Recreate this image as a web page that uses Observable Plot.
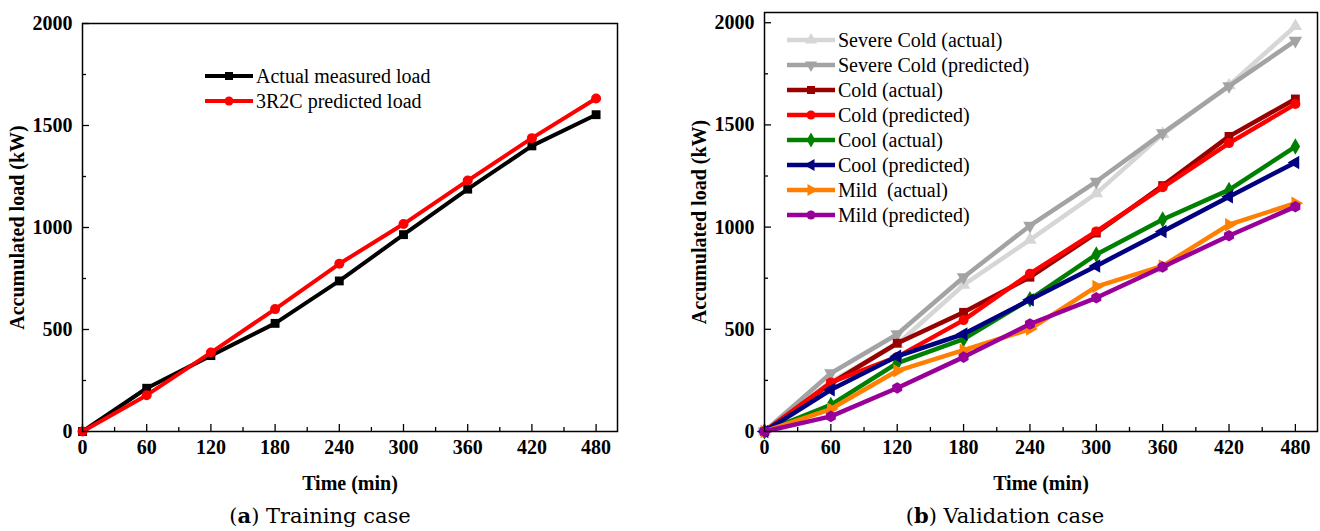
<!DOCTYPE html>
<html><head><meta charset="utf-8">
<script src="https://cdn.jsdelivr.net/npm/d3@7"></script>
<script src="https://cdn.jsdelivr.net/npm/@observablehq/plot@0.6"></script>
<style>
html,body{margin:0;padding:0;background:#fff;}
#root{position:relative;width:1320px;height:531px;overflow:hidden;font-family:"Liberation Serif","Times New Roman",serif;}
.panel{position:absolute;top:0;}
.caption{position:absolute;top:503px;font-family:"DejaVu Serif",serif;font-size:21px;line-height:26px;white-space:nowrap;transform:translateX(-50%);color:#000;}
.legend{position:absolute;font-family:"Liberation Serif","Times New Roman",serif;font-size:20px;color:#000;}
.legend .row{display:flex;align-items:center;height:25px;white-space:nowrap;}
.legend svg{margin-right:3px;flex:none;}
</style></head><body><div id="root"></div>
<script>
// ---- data ----
const time = [0, 60, 120, 180, 240, 300, 360, 420, 480];
const xMajor = [0, 60, 120, 180, 240, 300, 360, 420, 480];
const xMinor = [30, 90, 150, 210, 270, 330, 390, 450];
const yMajor = [0, 500, 1000, 1500, 2000];
const yMinor = [250, 750, 1250, 1750];

// (a) training case
const trainActual = [0, 212, 372, 530, 738, 965, 1188, 1400, 1553];
const trainPred   = [0, 178, 387, 600, 822, 1017, 1230, 1438, 1632];

// (b) validation case
const severeActual = [0, 245, 427, 717, 938, 1165, 1455, 1693, 1983];
const severePred   = [0, 285, 476, 755, 1007, 1223, 1460, 1690, 1912];
const coldActual   = [0, 235, 432, 583, 755, 971, 1203, 1444, 1627];
const coldPred     = [0, 240, 365, 545, 772, 979, 1195, 1411, 1602];
const coolActual   = [0, 130, 335, 452, 647, 866, 1037, 1182, 1394];
const coolPred     = [0, 204, 368, 477, 644, 810, 979, 1149, 1316];
const mildActual   = [0, 110, 297, 398, 501, 709, 810, 1012, 1117];
const mildPred     = [0, 74, 213, 364, 526, 654, 805, 958, 1100];

const trainSeries = [
  {name: "Actual measured load", values: trainActual, color: "#000000", symbol: "square", rotate: 0},
  {name: "3R2C predicted load", values: trainPred, color: "#ff0000", symbol: "circle", rotate: 0}
];
const validSeries = [
  {name: "Severe Cold (actual)", values: severeActual, color: "#d6d6d6", symbol: "triangle", rotate: 0},
  {name: "Severe Cold (predicted)", values: severePred, color: "#a3a3a3", symbol: "triangle", rotate: 180},
  {name: "Cold (actual)", values: coldActual, color: "#990000", symbol: "square", rotate: 0},
  {name: "Cold (predicted)", values: coldPred, color: "#ff0000", symbol: "circle", rotate: 0},
  {name: "Cool (actual)", values: coolActual, color: "#008000", symbol: "diamond", rotate: 0},
  {name: "Cool (predicted)", values: coolPred, color: "#000080", symbol: "triangle", rotate: -90},
  {name: "Mild\u00a0 (actual)", values: mildActual, color: "#ff8000", symbol: "triangle", rotate: 90},
  {name: "Mild (predicted)", values: mildPred, color: "#990099", symbol: "hexagon", rotate: 0}
];

function makeChart({width, height, ml, mr, mt, mb, yMax, series, lineWidth, r}) {
  const innerW = width - ml - mr, innerH = height - mt - mb;
  const marks = [
    Plot.tickX(xMinor, {x: d => d, insetTop: innerH - 4, stroke: "black", strokeWidth: 1.3}),
    Plot.tickX(xMajor, {x: d => d, insetTop: innerH - 7, stroke: "black", strokeWidth: 1.3}),
    Plot.tickY(yMinor, {y: d => d, insetRight: innerW - 4, stroke: "black", strokeWidth: 1.3}),
    Plot.tickY(yMajor, {y: d => d, insetRight: innerW - 7, stroke: "black", strokeWidth: 1.3}),
    Plot.axisX({ticks: xMajor, tickSize: 0, tickPadding: 8, tickFormat: d => String(d),
      fontSize: 20, fontWeight: "bold", label: "Time (min)", labelAnchor: "center",
      labelOffset: 58, labelArrow: "none"}),
    Plot.axisY({ticks: yMajor, tickSize: 0, tickPadding: 10, tickFormat: d => String(d),
      fontSize: 20, fontWeight: "bold", label: "Accumulated load (kW)", labelAnchor: "center",
      labelOffset: 73, labelArrow: "none"})
  ];
  for (const s of series) {
    const data = time.map((t, i) => ({t, v: s.values[i]}));
    marks.push(Plot.line(data, {x: "t", y: "v", stroke: s.color, strokeWidth: lineWidth, strokeLinejoin: "round"}));
    marks.push(Plot.dot(data, {x: "t", y: "v", symbol: s.symbol, rotate: s.rotate, r, fill: s.color, stroke: "none"}));
  }
  marks.push(Plot.frame({stroke: "black", strokeWidth: 1.5}));
  return Plot.plot({
    width, height, marginLeft: ml, marginRight: mr, marginTop: mt, marginBottom: mb,
    x: {domain: [0, 500]}, y: {domain: [0, yMax]},
    style: {fontFamily: "Liberation Serif, Times New Roman, serif", fontSize: "20px", color: "black", background: "white", overflow: "visible"},
    marks
  });
}

const symbolMap = {square: d3.symbolSquare, circle: d3.symbolCircle, triangle: d3.symbolTriangle, diamond: d3.symbolDiamond, hexagon: d3.symbolHexagon || d3.symbolCircle};
function makeLegend(series, left, top, lw, r) {
  const div = document.createElement("div");
  div.className = "legend";
  div.style.left = left + "px";
  div.style.top = top + "px";
  for (const s of series) {
    const row = document.createElement("div");
    row.className = "row";
    const svg = d3.create("svg").attr("width", 48).attr("height", 20);
    svg.append("line").attr("x1", 0).attr("x2", 48).attr("y1", 10).attr("y2", 10)
      .attr("stroke", s.color).attr("stroke-width", lw);
    const size = Math.PI * r * r;
    svg.append("path").attr("d", d3.symbol(symbolMap[s.symbol], size)())
      .attr("transform", `translate(24,10) rotate(${s.rotate})`).attr("fill", s.color);
    row.appendChild(svg.node());
    const span = document.createElement("span");
    span.textContent = s.name;
    row.appendChild(span);
    div.appendChild(row);
  }
  return div;
}

const root = document.getElementById("root");

const left = makeChart({width: 640, height: 500, ml: 82, mr: 23, mt: 23, mb: 69, yMax: 2000, series: trainSeries, lineWidth: 4, r: 5});
const p1 = document.createElement("div"); p1.className = "panel"; p1.style.left = "0px"; p1.appendChild(left); root.appendChild(p1);

const right = makeChart({width: 640, height: 500, ml: 84, mr: 3, mt: 12, mb: 69, yMax: 2050, series: validSeries, lineWidth: 4.5, r: 5});
const p2 = document.createElement("div"); p2.className = "panel"; p2.style.left = "680px"; p2.appendChild(right); root.appendChild(p2);

root.appendChild(makeLegend(trainSeries, 205, 63.5, 4, 4.5));
root.appendChild(makeLegend(validSeries, 787, 27.5, 4.5, 4.5));

const c1 = document.createElement("div"); c1.className = "caption"; c1.style.left = "320px";
c1.innerHTML = "(<b>a</b>) Training case"; root.appendChild(c1);
const c2 = document.createElement("div"); c2.className = "caption"; c2.style.left = "1005px";
c2.innerHTML = "(<b>b</b>) Validation case"; root.appendChild(c2);
</script></body></html>
